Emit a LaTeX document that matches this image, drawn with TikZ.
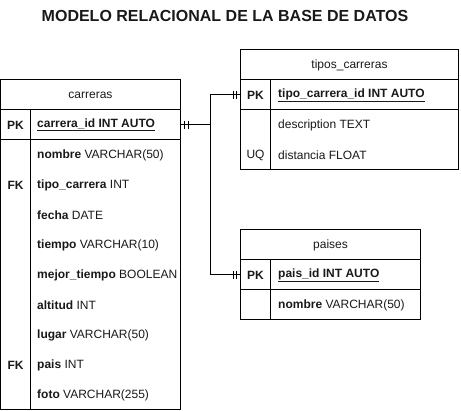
\documentclass[tikz,border=0pt]{standalone}
\usepackage{fontspec}
\setmainfont{Liberation Sans}
\begin{document}
\begin{tikzpicture}[x=1pt,y=-1pt,
  cell/.style={draw=black,line width=1pt,rectangle,inner sep=0pt,outer sep=0pt,anchor=north west},
  txt/.style={font=\fontsize{12}{14}\selectfont,inner sep=0pt,text=black!90},
  fld/.style={txt,anchor=west},
  key/.style={txt,anchor=center,font=\fontsize{12}{14}\selectfont\bfseries},
  conn/.style={line width=1pt,draw=black}]
\useasboundingbox (0,0) rectangle (461,411);
\node[font=\fontsize{16}{19}\selectfont\bfseries,text=black!90] (title) at (225,16) {MODELO RELACIONAL DE LA BASE DE DATOS};
% carreras
\node[cell,minimum width=180pt,minimum height=30pt] (carH) at (0.5,80) {};
\node[txt] (carHt) at (carH.center) {carreras};
\node[cell,minimum width=180pt,minimum height=30pt] (carPK) at (0.5,110) {};
\node[cell,minimum width=180pt,minimum height=270pt] (carF) at (0.5,140) {};
\draw[line width=1pt] (30.5,110) -- (30.5,410);
\node[key] (k1) at (15.5,125) {PK};
\node[fld] (f1) at (37,125) {\textbf{\underline{carrera\_id INT AUTO}}};
\node[fld] (f2) at (37,155) {\textbf{nombre} VARCHAR(50)};
\node[key] (k3) at (15.5,185) {FK};
\node[fld] (f3) at (37,185) {\textbf{tipo\_carrera} INT};
\node[fld] (f4) at (37,215) {\textbf{fecha} DATE};
\node[fld] (f5) at (37,245) {\textbf{tiempo} VARCHAR(10)};
\node[fld] (f6) at (37,275) {\textbf{mejor\_tiempo} BOOLEAN};
\node[fld] (f7) at (37,305) {\textbf{altitud} INT};
\node[fld] (f8) at (37,335) {\textbf{lugar} VARCHAR(50)};
\node[key] (k9) at (15.5,365) {FK};
\node[fld] (f9) at (37,365) {\textbf{pais} INT};
\node[fld] (f10) at (37,395) {\textbf{foto} VARCHAR(255)};
% tipos_carreras
\node[cell,minimum width=218pt,minimum height=30pt] (tipH) at (240.5,50) {};
\node[txt] (tipHt) at (tipH.center) {tipos\_carreras};
\node[cell,minimum width=218pt,minimum height=30pt] (tipPK) at (240.5,80) {};
\node[cell,minimum width=218pt,minimum height=60pt] (tipF) at (240.5,110) {};
\draw[line width=1pt] (270.5,80) -- (270.5,170);
\node[key] (tk1) at (255.5,95) {PK};
\node[fld] (tf1) at (278,95) {\textbf{\underline{tipo\_carrera\_id INT AUTO}}};
\node[fld] (tf2) at (278,125) {description TEXT};
\node[key,font=\fontsize{12}{14}\selectfont] (tk3) at (255.5,155) {UQ};
\node[fld] (tf3) at (278,155) {distancia FLOAT};
% paises
\node[cell,minimum width=180pt,minimum height=30pt] (paiH) at (240.5,230) {};
\node[txt] (paiHt) at (paiH.center) {paises};
\node[cell,minimum width=180pt,minimum height=30pt] (paiPK) at (240.5,260) {};
\node[cell,minimum width=180pt,minimum height=30pt] (paiF) at (240.5,290) {};
\draw[line width=1pt] (270.5,260) -- (270.5,320);
\node[key] (pk1) at (255.5,275) {PK};
\node[fld] (pf1) at (278,275) {\textbf{\underline{pais\_id INT AUTO}}};
\node[fld] (pf2) at (278,305) {\textbf{nombre} VARCHAR(50)};
% connectors
\coordinate (j) at (210.5,125);
\draw[conn] (carPK.east) -- (j) |- (tipPK.west);
\draw[conn] (j) |- (paiPK.west);
% mandatory-one marks
\foreach \n/\s in {carPK.east/1, tipPK.west/-1, paiPK.west/-1}{
  \draw[conn] ([xshift=\s*4pt]\n) ++(0,-4) -- ++(0,8);
  \draw[conn] ([xshift=\s*7.5pt]\n) ++(0,-4) -- ++(0,8);
}
\end{tikzpicture}
\end{document}
